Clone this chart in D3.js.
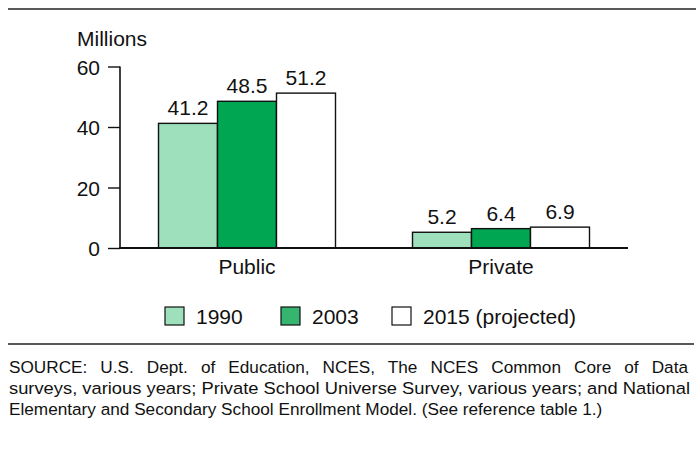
<!DOCTYPE html>
<html><head><meta charset="utf-8">
<script src="https://cdn.jsdelivr.net/npm/d3@7"></script>
<style>body{margin:0;background:#fff}svg{display:block}text{font-family:"Liberation Sans",Arial,Helvetica,sans-serif;fill:#111}</style>
</head><body>
<svg id="c" width="696" height="455"></svg>
<script>
const categories = ["Public", "Private"];
const seriesNames = ["1990", "2003", "2015 (projected)"];
const values1990 = [41.2, 5.2];
const values2003 = [48.5, 6.4];
const values2015 = [51.2, 6.9];
const yTicks = [0, 20, 40, 60];
const sourceLines = [
  "SOURCE: U.S. Dept. of Education, NCES, The NCES Common Core of Data",
  "surveys, various years; Private School Universe Survey, various years; and National",
  "Elementary and Secondary School Enrollment Model. (See reference table 1.)"
];

const seriesValues = [values1990, values2003, values2015];
const barColors = ["#9edfbc", "#00a651", "#ffffff"];
const legendColors = ["#9edfbc", "#36b56f", "#ffffff"];
const FS = "21px";

const svg = d3.select("#c");
const y = d3.scaleLinear().domain([0, 60]).range([248, 66.5]);
const x0 = d3.scaleBand().domain(categories).range([120, 628]).paddingInner(0).paddingOuter(0);
const groupW = 177;
const x1 = d3.scaleBand().domain(seriesNames).range([0, groupW]);

// top rule
svg.append("line").attr("x1", 8).attr("x2", 696).attr("y1", 9).attr("y2", 9).attr("stroke", "#222").attr("stroke-width", 1.6);

// y axis
const yAxis = d3.axisLeft(y).tickValues(yTicks).tickSize(12).tickPadding(8);
const ga = svg.append("g").attr("transform", "translate(120,0)").call(yAxis);
ga.select(".domain").remove();
ga.selectAll(".tick line").attr("stroke", "#111").attr("stroke-width", 1.4);
ga.selectAll(".tick text").style("font-size", FS).attr("fill", "#111").attr("dy", "0.36em");
svg.append("line").attr("x1", 120).attr("x2", 120).attr("y1", y(60)).attr("y2", y(0)).attr("stroke", "#111").attr("stroke-width", 1.6);

svg.append("text").attr("x", 77).attr("y", 46).style("font-size", FS).text("Millions");

// bars
categories.forEach((cat, ci) => {
  const gx = x0(cat) + (x0.bandwidth() - groupW) / 2;
  seriesNames.forEach((s, si) => {
    const v = seriesValues[si][ci];
    svg.append("rect")
      .attr("x", gx + x1(s)).attr("y", y(v))
      .attr("width", x1.bandwidth()).attr("height", y(0) - y(v))
      .attr("fill", barColors[si]).attr("stroke", "#111").attr("stroke-width", 1.4);
    svg.append("text")
      .attr("x", gx + x1(s) + x1.bandwidth() / 2).attr("y", y(v) - 8)
      .attr("text-anchor", "middle").style("font-size", FS).text(v.toFixed(1));
  });
  svg.append("text").attr("x", x0(cat) + x0.bandwidth() / 2).attr("y", 274)
    .attr("text-anchor", "middle").style("font-size", FS).text(cat);
});

// baseline
svg.append("line").attr("x1", 119).attr("x2", 628).attr("y1", y(0)).attr("y2", y(0)).attr("stroke", "#111").attr("stroke-width", 1.8);

// legend
const legX = [165, 281, 392];
seriesNames.forEach((s, i) => {
  svg.append("rect").attr("x", legX[i]).attr("y", 307).attr("width", 19).attr("height", 18)
    .attr("fill", legendColors[i]).attr("stroke", "#111").attr("stroke-width", 1.2);
  svg.append("text").attr("x", legX[i] + 31).attr("y", 324).style("font-size", FS).text(s);
});

// bottom rule
svg.append("line").attr("x1", 8).attr("x2", 694).attr("y1", 344).attr("y2", 344).attr("stroke", "#222").attr("stroke-width", 1.6);

// source
const srcY = [373, 394, 415];
sourceLines.forEach((t, i) => {
  const tx = svg.append("text").attr("x", 9).attr("y", srcY[i]).style("font-size", "17.2px").text(t);
  if (i === 0) {
    const w = tx.node().getComputedTextLength();
    const spaces = (t.match(/ /g) || []).length;
    const extra = (679 - w) / spaces;
    if (extra > 0) tx.style("word-spacing", extra + "px");
  }
  if (i === 1) tx.attr("textLength", 681).attr("lengthAdjust", "spacingAndGlyphs");
});
</script>
</body></html>
